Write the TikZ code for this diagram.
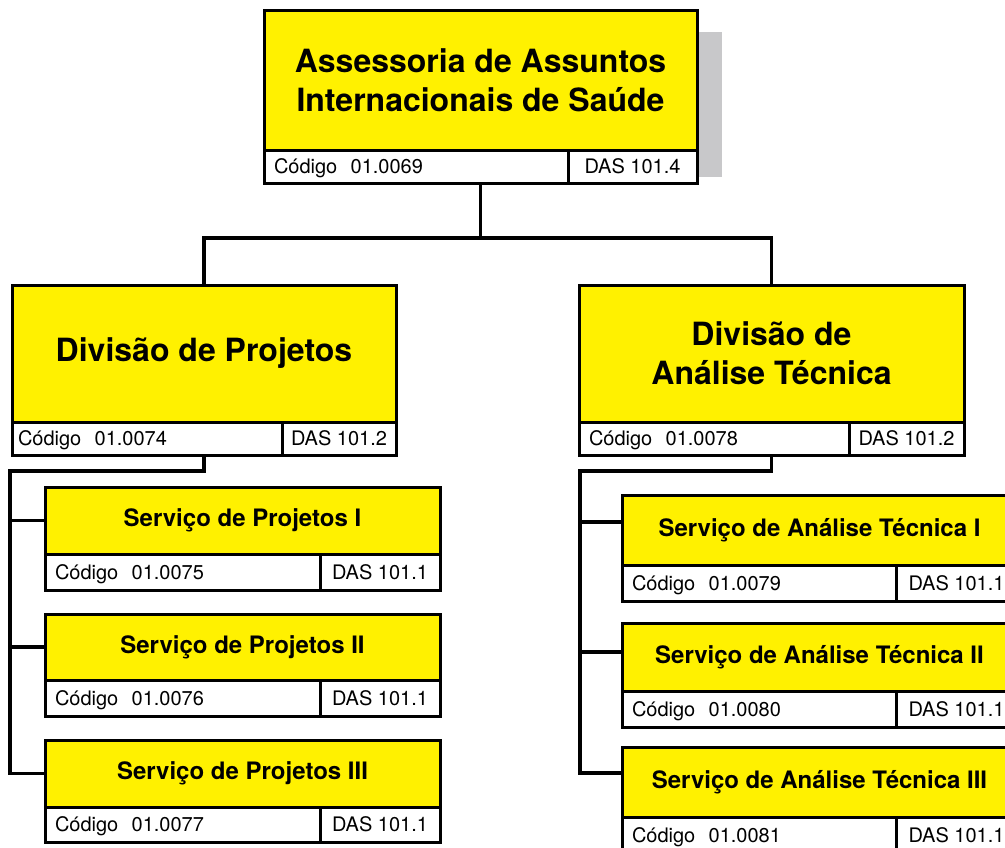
\documentclass[tikz,border=0pt]{standalone}
\usepackage{fontspec}
\setmainfont{TeX Gyre Heros}
\usetikzlibrary{positioning,calc,backgrounds}
\usepackage{xcolor}

\definecolor{orgyellow}{RGB}{255,241,0}
\definecolor{shadowgray}{RGB}{200,200,202}

\newcommand{\orgtitlefont}{\bfseries\fontsize{32}{39}\selectfont}
\newcommand{\orgsubfont}{\bfseries\fontsize{24}{29}\selectfont}
\newcommand{\orgcodefont}{\fontsize{20}{24}\selectfont}

\begin{document}
\begin{tikzpicture}[
    x=1pt, y=-1pt,
    every node/.style={inner sep=0pt, outer sep=0pt},
    headbox/.style={draw, fill=orgyellow, line width=3pt, align=center},
    codecell/.style={draw, fill=white, line width=3pt, minimum height=33pt,
        text width=#1, inner xsep=10pt, align=left, text height=15pt, text depth=1pt,
        font=\orgcodefont},
    dascell/.style={draw, fill=white, line width=3pt, minimum height=33pt,
        minimum width=#1, align=center, text height=15pt, text depth=1pt,
        font=\orgcodefont},
    wire/.style={line width=3.2pt}
]

\useasboundingbox (0,0) rectangle (1005,847);
\clip (0,0) rectangle (1005,847);

% Assessoria (top)
\node[headbox, minimum width=433pt, minimum height=140pt, font=\orgtitlefont] (top) at (480.5,80)
    {Assessoria de Assuntos\\Internacionais de Saúde};
\node[codecell=284pt, anchor=north west] (topcode) at (top.south west) {Código~~01.0069};
\node[dascell=129pt, anchor=north west] (topdas) at (topcode.north east) {DAS 101.4};

% shadow of the top box
\begin{scope}[on background layer]
\fill[shadowgray] ([yshift=-22pt]top.north east) rectangle ([xshift=25pt, yshift=6pt]topdas.south east);
\end{scope}

% Divisao de Projetos (left)
\node[headbox, minimum width=384pt, minimum height=137pt, font=\orgtitlefont] (divproj) at (204,353.5)
    {Divisão de Projetos};
\node[codecell=258pt, inner xsep=6pt, anchor=north west] (divprojcode) at (divproj.south west) {Código~~01.0074};
\node[dascell=114pt, anchor=north west] (divprojdas) at (divprojcode.north east) {DAS 101.2};

% Divisao de Analise Tecnica (right)
\node[headbox, minimum width=385pt, minimum height=137pt, font=\orgtitlefont] (divanal) at (771.5,353.5)
    {Divisão de\\Análise Técnica};
\node[codecell=250pt, anchor=north west] (divanalcode) at (divanal.south west) {Código~~01.0078};
\node[dascell=115pt, anchor=north west] (divanaldas) at (divanalcode.north east) {DAS 101.2};

% Servicos de Projetos
\node[headbox, minimum width=395pt, minimum height=67pt, font=\orgsubfont] (sp1) at (242.5,520.5) {Serviço de Projetos I};
\node[codecell=255pt, minimum height=36pt, anchor=north west] (sp1code) at (sp1.south west) {Código~~01.0075};
\node[dascell=120pt, minimum height=36pt, anchor=north west] (sp1das) at (sp1code.north east) {DAS 101.1};

\node[headbox, minimum width=395pt, minimum height=66pt, font=\orgsubfont] (sp2) at (242.5,647) {Serviço de Projetos II};
\node[codecell=255pt, minimum height=36pt, anchor=north west] (sp2code) at (sp2.south west) {Código~~01.0076};
\node[dascell=120pt, minimum height=36pt, anchor=north west] (sp2das) at (sp2code.north east) {DAS 101.1};

\node[headbox, minimum width=395pt, minimum height=67pt, font=\orgsubfont] (sp3) at (242.5,773.5) {Serviço de Projetos III};
\node[codecell=255pt, minimum height=35pt, anchor=north west] (sp3code) at (sp3.south west) {Código~~01.0077};
\node[dascell=120pt, minimum height=35pt, anchor=north west] (sp3das) at (sp3code.north east) {DAS 101.1};

% Servicos de Analise Tecnica
\node[headbox, minimum width=395pt, minimum height=70pt, font=\orgsubfont] (sa1) at (819.5,530) {Serviço de Análise Técnica I};
\node[codecell=254pt, minimum height=36pt, anchor=north west] (sa1code) at (sa1.south west) {Código~~01.0079};
\node[dascell=121pt, minimum height=36pt, anchor=north west] (sa1das) at (sa1code.north east) {DAS 101.1};

\node[headbox, minimum width=395pt, minimum height=68pt, font=\orgsubfont] (sa2) at (819.5,657) {Serviço de Análise Técnica II};
\node[codecell=254pt, minimum height=36pt, anchor=north west] (sa2code) at (sa2.south west) {Código~~01.0080};
\node[dascell=121pt, minimum height=36pt, anchor=north west] (sa2das) at (sa2code.north east) {DAS 101.1};

\node[headbox, minimum width=395pt, minimum height=70pt, font=\orgsubfont] (sa3) at (819.5,782) {Serviço de Análise Técnica III};
\node[codecell=254pt, minimum height=36pt, anchor=north west] (sa3code) at (sa3.south west) {Código~~01.0081};
\node[dascell=121pt, minimum height=36pt, anchor=north west] (sa3das) at (sa3code.north east) {DAS 101.1};

% Connectors
\coordinate (topfoot) at (top.south |- topcode.south);
\coordinate (hub) at ($(topfoot)+(0,55)$);
\draw[wire] (topfoot) -- (hub);
\draw[wire] (divproj.north) |- (hub) -| (divanal.north);

\coordinate (projfoot) at (divproj.south |- divprojcode.south);
\coordinate (projbus) at (10,471);
\draw[wire] (projfoot) |- (projbus) |- (sp3.west);
\draw[wire] (sp1.west) -- (sp1.west -| projbus);
\draw[wire] (sp2.west) -- (sp2.west -| projbus);

\coordinate (analfoot) at (divanal.south |- divanalcode.south);
\coordinate (analbus) at (580,471);
\draw[wire] (analfoot) |- (analbus) |- ([yshift=9pt]sa3.west);
\draw[wire] ([yshift=8pt]sa1.west) -- ([yshift=8pt]sa1.west -| analbus);
\draw[wire] ([yshift=5pt]sa2.west) -- ([yshift=5pt]sa2.west -| analbus);

\end{tikzpicture}
\end{document}
